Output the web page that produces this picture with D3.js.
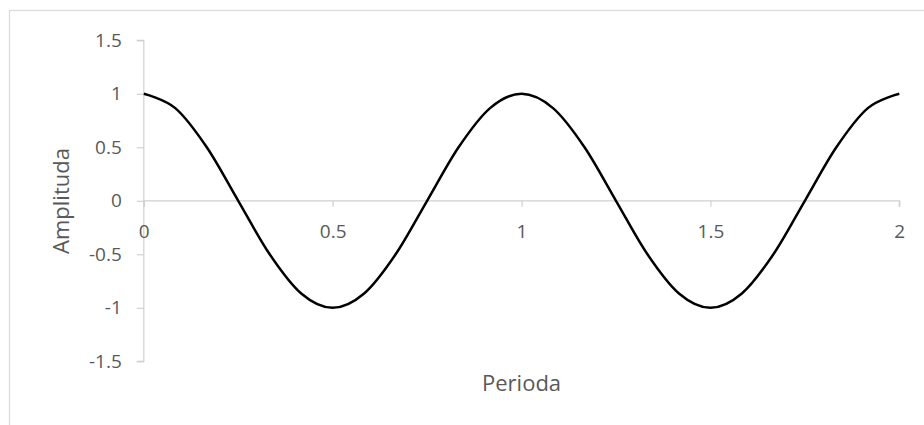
<!DOCTYPE html>
<html>
<head>
<meta charset="utf-8">
<script src="https://cdn.jsdelivr.net/npm/d3@7"></script>
<style>
  html, body { margin: 0; padding: 0; background: #ffffff; }
  svg { display: block; }
  text { font-family: "Open Sans", Lato, sans-serif; fill: #595959; }
</style>
</head>
<body>
<svg id="chart" width="924" height="425"></svg>
<script>
// Cosine wave sampled every 30° (1/12 of a period), over two periods
const periode = [
  0, 0.0833, 0.1667, 0.25, 0.3333, 0.4167, 0.5, 0.5833, 0.6667, 0.75, 0.8333, 0.9167,
  1, 1.0833, 1.1667, 1.25, 1.3333, 1.4167, 1.5, 1.5833, 1.6667, 1.75, 1.8333, 1.9167, 2
];
const amplituda = [
  1, 0.866, 0.5, 0, -0.5, -0.866, -1, -0.866, -0.5, 0, 0.5, 0.866,
  1, 0.866, 0.5, 0, -0.5, -0.866, -1, -0.866, -0.5, 0, 0.5, 0.866, 1
];
const xTicks = [0, 0.5, 1, 1.5, 2];
const yTicks = [-1.5, -1, -0.5, 0, 0.5, 1, 1.5];
const xTitle = "Perioda";
const yTitle = "Amplituda";

const svg = d3.select("#chart");
const axisColor = "#d0d0d0";
const tickFont = "19px";

// outer chart frame
svg.append("rect")
  .attr("x", 9.5).attr("y", 10.5)
  .attr("width", 940).attr("height", 440)
  .attr("fill", "none").attr("stroke", "#d9d9d9").attr("stroke-width", 1.2);

const x = d3.scaleLinear().domain([0, 2]).range([143.8, 899.3]);
const y = d3.scaleLinear().domain([-1.5, 1.5]).range([361.3, 40.3]);

// vertical axis on the left
const yAxis = svg.append("g")
  .attr("transform", `translate(${x(0)},0)`)
  .call(d3.axisLeft(y).tickValues(yTicks).tickSize(7).tickPadding(15)
    .tickFormat(d => String(d)));
yAxis.select(".domain").attr("stroke", axisColor).attr("stroke-width", 1.2)
  .attr("d", `M-7,${y(1.5)}H0V${y(-1.5)}H-7`);
yAxis.selectAll(".tick line").attr("stroke", axisColor).attr("stroke-width", 1.2);
yAxis.selectAll(".tick text")
  .style("font-family", "'Open Sans', Lato, sans-serif")
  .style("font-size", tickFont).attr("fill", "#595959");

// horizontal axis crossing at zero
const xAxis = svg.append("g")
  .attr("transform", `translate(0,${y(0)})`)
  .call(d3.axisBottom(x).tickValues(xTicks).tickSize(6).tickPadding(15)
    .tickFormat(d => String(d)));
xAxis.select(".domain").attr("stroke", axisColor).attr("stroke-width", 1.2)
  .attr("d", `M${x(0)},6V0H${x(2)}V6`);
xAxis.selectAll(".tick line").attr("stroke", axisColor).attr("stroke-width", 1.2);
xAxis.selectAll(".tick text")
  .style("font-family", "'Open Sans', Lato, sans-serif")
  .style("font-size", tickFont).attr("fill", "#595959")
  .attr("dy", "0.35em").attr("y", 31);

// smoothed wave
const line = d3.line()
  .x((d, i) => x(periode[i]))
  .y(d => y(d))
  .curve(d3.curveCardinal.tension(0));
svg.append("path")
  .datum(amplituda)
  .attr("d", line)
  .attr("fill", "none")
  .attr("stroke", "#000000")
  .attr("stroke-width", 2.5)
  .attr("stroke-linejoin", "round");

// axis titles
svg.append("text")
  .attr("x", x(1)).attr("y", 383)
  .attr("text-anchor", "middle").attr("dy", "0.35em")
  .style("font-size", "22px")
  .text(xTitle);

svg.append("text")
  .attr("transform", `translate(61,201) rotate(-90)`)
  .attr("text-anchor", "middle").attr("dy", "0.35em")
  .style("font-size", "22px")
  .text(yTitle);
</script>
</body>
</html>
